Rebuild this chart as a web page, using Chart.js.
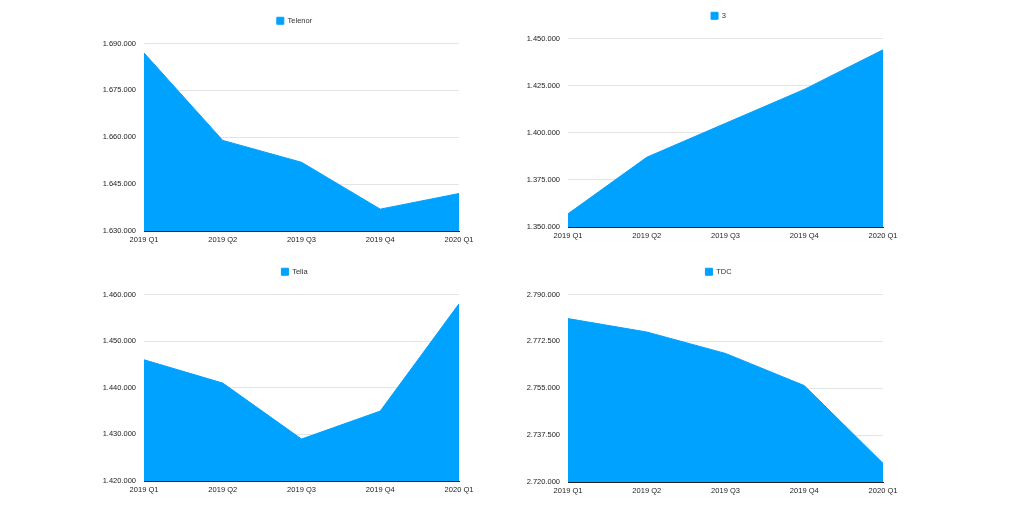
<!DOCTYPE html>
<html>
<head>
<meta charset="utf-8">
<script src="https://cdn.jsdelivr.net/npm/chart.js@4/dist/chart.umd.min.js"></script>
<style>
  html, body { margin: 0; padding: 0; background: #fff; }
  body { width: 1024px; height: 513px; position: relative; overflow: hidden; }
  .box { position: absolute; }
</style>
</head>
<body>
<div class="box" style="left:90px;top:0px;width:409px;height:251px"><canvas id="telenorGrafik"></canvas></div>
<div class="box" style="left:514px;top:0px;width:409px;height:247px"><canvas id="treGrafik"></canvas></div>
<div class="box" style="left:90px;top:256px;width:409px;height:245px"><canvas id="teliaGrafik"></canvas></div>
<div class="box" style="left:514px;top:256px;width:409px;height:246px"><canvas id="tdcGrafik"></canvas></div>
<script>
// Kvartaler
const kvartaler = ["2019 Q1", "2019 Q2", "2019 Q3", "2019 Q4", "2020 Q1"];

// Abonnenter pr. operatør
const telenor = [1687000, 1659000, 1652000, 1637000, 1642000];
const tre = [1357000, 1387000, 1405000, 1423000, 1444000];
const telia = [1446000, 1441000, 1429000, 1435000, 1458000];
const tdc = [2781000, 2776000, 2768000, 2756000, 2727000];

// Y-akse: [min, max, step]
const telenorAkse = [1630000, 1690000, 15000];
const treAkse = [1350000, 1450000, 25000];
const teliaAkse = [1420000, 1460000, 10000];
const tdcAkse = [2720000, 2790000, 17500];

const BLAA = "#00A2FF";
const FONT = "'Liberation Sans', Arial, Helvetica, sans-serif";

function formatTal(v) {
  return String(Math.round(v)).replace(/\B(?=(\d{3})+(?!\d))/g, ".");
}

// ekstra luft under legend, og legend centreret over hele lærredet
const legendLuft = {
  id: "legendLuft",
  beforeInit(chart) {
    const legend = chart.legend;
    const fit = legend.fit;
    legend.fit = function () {
      fit.bind(legend)();
      this.height += 9;
    };
    const draw = legend.draw;
    legend.draw = function (area) {
      const ctx = this.ctx;
      ctx.save();
      ctx.translate(20, 0);
      draw.call(legend, area);
      ctx.restore();
    };
  },
};

function createAreaChart(id, navn, data, akse, padTop) {
  const ctx = document.getElementById(id).getContext("2d");
  new Chart(ctx, {
    type: "line",
    data: {
      labels: kvartaler,
      datasets: [
        {
          label: navn,
          data: data,
          backgroundColor: BLAA,
          borderColor: BLAA,
          borderWidth: 1,
          pointRadius: 0,
          tension: 0,
          fill: "start",
        },
      ],
    },
    options: {
      responsive: true,
      maintainAspectRatio: false,
      animation: false,
      layout: { padding: { top: padTop, right: 40, left: 0, bottom: 0 } },
      plugins: {
        tooltip: { enabled: false },
        legend: {
          position: "top",
          labels: {
            boxWidth: 7,
            boxHeight: 7,
            padding: 10,
            color: "#333",
            font: { family: FONT, size: 7.5 },
          },
        },
      },
      scales: {
        x: {
          offset: false,
          grid: { display: false, drawTicks: false },
          border: { display: true, color: "#222", width: 1 },
          ticks: {
            padding: 4,
            color: "#222",
            maxRotation: 0,
            autoSkip: false,
            font: { family: FONT, size: 7.5 },
          },
          afterFit: (s) => { s.height = 20; },
        },
        y: {
          min: akse[0],
          max: akse[1],
          grid: { color: "#e4e4e4", drawTicks: false, lineWidth: 1 },
          border: { display: false },
          ticks: {
            stepSize: akse[2],
            padding: 8,
            color: "#222",
            font: { family: FONT, size: 7.5 },
            callback: (v) => formatTal(v),
          },
          afterFit: (s) => { s.width = 54; },
        },
      },
    },
    plugins: [legendLuft],
  });
}

createAreaChart("telenorGrafik", "Telenor", telenor, telenorAkse, 7);
createAreaChart("treGrafik", "3", tre, treAkse, 2);
createAreaChart("teliaGrafik", "Telia", telia, teliaAkse, 2);
createAreaChart("tdcGrafik", "TDC", tdc, tdcAkse, 2);
</script>
</body>
</html>
